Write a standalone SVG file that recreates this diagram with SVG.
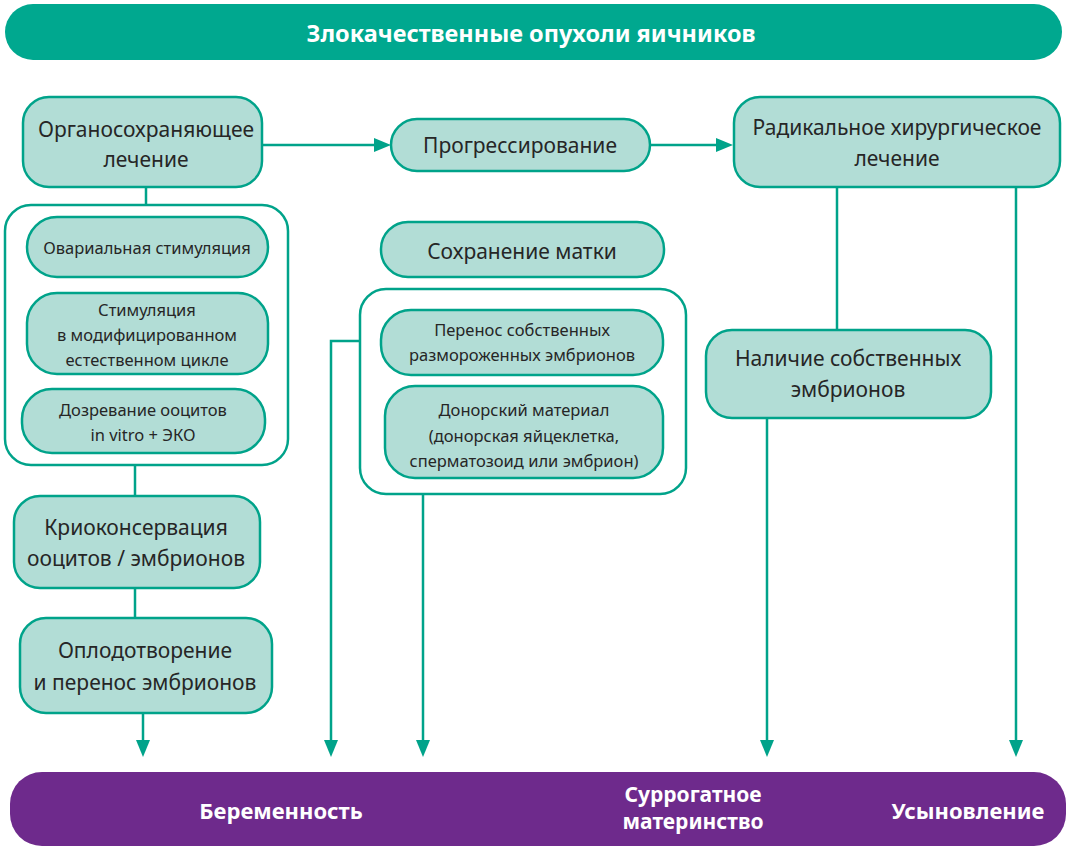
<svg xmlns="http://www.w3.org/2000/svg" width="1071" height="846" viewBox="0 0 1071 846">
<defs>
<style>
.n{fill:#b2ddd6;stroke:#00a38a;stroke-width:2.5}
.c{fill:#fff;stroke:#00a38a;stroke-width:2.5}
.t{font-family:"Noto Sans","Open Sans",sans-serif;fill:#262626;text-anchor:middle}
.l{font-size:21px}
.s{font-size:16.5px}
.w{font-family:"Noto Sans","Open Sans",sans-serif;fill:#fff;text-anchor:middle;font-weight:bold;font-size:22px}
.e{fill:none;stroke:#00a38a;stroke-width:2.5}
.h{fill:#00a38a}
</style>
</defs>

<g id="connectors">
<path class="e" d="M262,145 H376"/>
<path class="h" d="M374,138 L391,145 L374,152 Z"/>
<path class="e" d="M650,145 H718"/>
<path class="h" d="M716,138 L733,145 L716,152 Z"/>
<path class="e" d="M146,187 V205"/>
<path class="e" d="M135,465 V496"/>
<path class="e" d="M135,588 V618"/>
<path class="e" d="M143,713 V742"/>
<path class="h" d="M136,740 L150,740 L143,757 Z"/>
<path class="e" d="M360,341 H331 V742"/>
<path class="h" d="M324,740 L338,740 L331,757 Z"/>
<path class="e" d="M423,494 V742"/>
<path class="h" d="M416,740 L430,740 L423,757 Z"/>
<path class="e" d="M837,187 V330"/>
<path class="e" d="M767,418 V742"/>
<path class="h" d="M760,740 L774,740 L767,757 Z"/>
<path class="e" d="M1016,187 V742"/>
<path class="h" d="M1009,740 L1023,740 L1016,757 Z"/>
</g>

<g id="title">
<rect x="5" y="4" width="1057" height="56" rx="28" fill="#00a88f"/>
<text class="w" x="531" y="42" style="font-size:23.5px">Злокачественные опухоли яичников</text>
</g>

<g id="organ">
<rect class="n" x="23" y="97" width="239" height="90" rx="26"/>
<text class="t l" x="146" y="137">Органосохраняющее</text>
<text class="t l" x="146" y="167">лечение</text>
</g>

<g id="progress">
<rect class="n" x="391" y="119" width="259" height="52" rx="26"/>
<text class="t l" x="520" y="153">Прогрессирование</text>
</g>

<g id="radical">
<rect class="n" x="734" y="97" width="326" height="90" rx="26"/>
<text class="t l" x="897" y="135">Радикальное хирургическое</text>
<text class="t l" x="897" y="166">лечение</text>
</g>

<g id="group1">
<rect class="c" x="5" y="205" width="283" height="260" rx="26"/>
</g>
<g id="ovarian">
<rect class="n" x="27" y="217" width="241" height="60" rx="30"/>
<text class="t s" x="147" y="254">Овариальная стимуляция</text>
</g>
<g id="modified">
<rect class="n" x="27" y="293" width="241" height="81" rx="30"/>
<text class="t s" x="147" y="316">Стимуляция</text>
<text class="t s" x="147" y="341">в модифицированном</text>
<text class="t s" x="147" y="366">естественном цикле</text>
</g>
<g id="ivm">
<rect class="n" x="22" y="389" width="243" height="64" rx="30"/>
<text class="t s" x="143" y="416">Дозревание ооцитов</text>
<text class="t s" x="143" y="441">in vitro + ЭКО</text>
</g>

<g id="cryo">
<rect class="n" x="14" y="496" width="246" height="92" rx="26"/>
<text class="t l" x="136" y="535">Криоконсервация</text>
<text class="t l" x="136" y="566">ооцитов / эмбрионов</text>
</g>

<g id="fert">
<rect class="n" x="20" y="618" width="252" height="95" rx="26"/>
<text class="t l" x="145" y="658">Оплодотворение</text>
<text class="t l" x="145" y="690">и перенос эмбрионов</text>
</g>

<g id="uterus">
<rect class="n" x="381" y="222" width="283" height="55" rx="27"/>
<text class="t l" x="522" y="259">Сохранение матки</text>
</g>

<g id="group2">
<rect class="c" x="360" y="289" width="326" height="205" rx="26"/>
</g>
<g id="thawed">
<rect class="n" x="381" y="310" width="282" height="65" rx="30"/>
<text class="t s" x="522" y="336">Перенос собственных</text>
<text class="t s" x="522" y="361">размороженных эмбрионов</text>
</g>
<g id="donor">
<rect class="n" x="385" y="386" width="278" height="92" rx="30"/>
<text class="t s" x="524" y="416">Донорский материал</text>
<text class="t s" x="524" y="442">(донорская яйцеклетка,</text>
<text class="t s" x="524" y="467">сперматозоид или эмбрион)</text>
</g>

<g id="own">
<rect class="n" x="706" y="330" width="285" height="88" rx="26"/>
<text class="t l" x="848" y="366">Наличие собственных</text>
<text class="t l" x="848" y="397">эмбрионов</text>
</g>

<g id="outcomes">
<rect x="10" y="772" width="1056" height="74" rx="32" fill="#6e2a8c"/>
<text class="w" x="281" y="819">Беременность</text>
<text class="w" x="693" y="802" style="font-size:21px">Суррогатное</text>
<text class="w" x="693" y="829" style="font-size:21px">материнство</text>
<text class="w" x="968" y="819">Усыновление</text>
</g>
</svg>
